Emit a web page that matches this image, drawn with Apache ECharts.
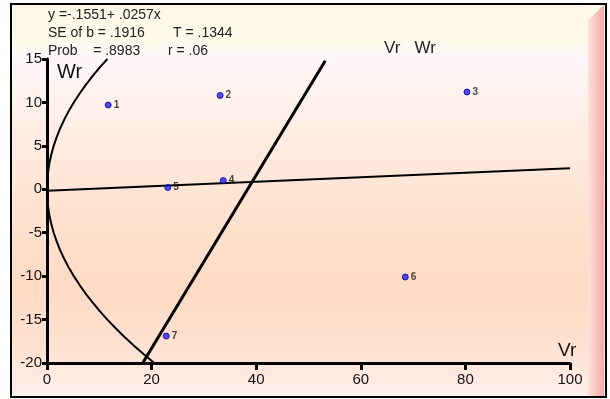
<!DOCTYPE html>
<html><head><meta charset="utf-8">
<script src="https://cdn.jsdelivr.net/npm/echarts@6/dist/echarts.min.js"></script>
<style>html,body{margin:0;padding:0;background:#fff}#c{width:610px;height:399px}</style>
</head><body><div id="c"></div>
<script>
// Data
var pointLabels = ['1','2','3','4','5','6','7'];
var vrValues = [11.7, 33.1, 80.3, 33.7, 23.1, 68.5, 22.8];
var wrValues = [9.7, 10.8, 11.2, 1.0, 0.2, -10.1, -16.9];
var regIntercept = -0.1551, regSlope = 0.0257;
var steepLine = [[18.3, -20], [53.2, 14.8]];
// limiting parabola: Wr values and Vr values
var parabolaWr = [15, 14, 13, 12, 11, 10, 9, 8, 7, 6, 5, 4, 3, 2, 1, 0, -1, -2, -3, -4, -5, -6, -7, -8, -9, -10, -11, -12, -13, -14, -15, -16, -17, -18, -19, -20];
var parabolaVr = [11.54, 10.05, 8.67, 7.38, 6.21, 5.13, 4.15, 3.28, 2.51, 1.85, 1.28, 0.82, 0.46, 0.21, 0.05, 0, 0.05, 0.21, 0.46, 0.82, 1.28, 1.85, 2.51, 3.28, 4.15, 5.13, 6.21, 7.38, 8.67, 10.05, 11.54, 13.13, 14.82, 16.62, 18.51, 20.51];
var xTicks = [0, 20, 40, 60, 80, 100];
var yTicks = [-20, -15, -10, -5, 0, 5, 10, 15];
var statLines = ['y =-.1551+ .0257x', 'SE of b = .1916', 'Prob    = .8983'];
var statRight = ['T = .1344', 'r = .06'];

var chart = echarts.init(document.getElementById('c'));
var scatterData = vrValues.map(function(v, i){ return {value:[v, wrValues[i]], name: pointLabels[i]}; });
var parabolaData = parabolaWr.map(function(w, i){ return [parabolaVr[i], w]; });
var font = '"Liberation Sans", Arial, sans-serif';

var option = {
  animation: false,
  grid: {left: 47, right: 40, top: 59, bottom: 36},
  xAxis: {
    type: 'value', min: xTicks[0], max: xTicks[xTicks.length-1], interval: 20,
    axisLine: {onZero: false, lineStyle: {color: '#000', width: 3}},
    axisTick: {length: 7, lineStyle: {color: '#000', width: 3}},
    axisLabel: {color: '#111', fontSize: 15, fontFamily: font, margin: 9},
    splitLine: {show: false}
  },
  yAxis: {
    type: 'value', min: yTicks[0], max: yTicks[yTicks.length-1], interval: 5,
    axisLine: {onZero: false, lineStyle: {color: '#000', width: 3}},
    axisTick: {length: 5, lineStyle: {color: '#000', width: 3}},
    axisLabel: {color: '#111', fontSize: 15, fontFamily: font, margin: 5},
    splitLine: {show: false}
  },
  graphic: [
    {type: 'rect', z: -10, shape: {x: 11, y: 4, width: 595, height: 393},
     style: {fill: new echarts.graphic.LinearGradient(0, 0, 0, 1, [
       {offset: 0, color: '#fff9ea'}, {offset: 0.1, color: '#fffaf0'},
       {offset: 0.13, color: '#fff8fb'}, {offset: 0.25, color: '#fff1ec'},
       {offset: 0.5, color: '#ffe4d2'}, {offset: 0.72, color: '#ffdac4'},
       {offset: 0.88, color: '#ffe2d2'}, {offset: 1, color: '#fff0ec'}])}},
    {type: 'rect', z: -9, shape: {x: 12, y: 5, width: 576, height: 38},
     style: {fill: new echarts.graphic.LinearGradient(0, 0, 0, 1, [
       {offset: 0, color: '#fff6e6'}, {offset: 1, color: '#fffbea'}])}},
    {type: 'polygon', z: -9, shape: {points: [[588, 20], [604, 5], [604, 396], [588, 396]]},
     style: {fill: new echarts.graphic.LinearGradient(0, 0, 1, 0, [
       {offset: 0, color: '#ffe2da'}, {offset: 1, color: '#f5a8a6'}])}},
    {type: 'rect', z: 10, shape: {x: 11, y: 4, width: 595, height: 393},
     style: {fill: 'none', stroke: '#000', lineWidth: 2}},
    {type: 'text', z: 10, left: 48, top: 8, style: {text: statLines[0], font: '14px ' + font, fill: '#222'}},
    {type: 'text', z: 10, left: 48, top: 26, style: {text: statLines[1], font: '14px ' + font, fill: '#222'}},
    {type: 'text', z: 10, left: 48, top: 44, style: {text: statLines[2], font: '14px ' + font, fill: '#222'}},
    {type: 'text', z: 10, left: 173, top: 26, style: {text: statRight[0], font: '14px ' + font, fill: '#222'}},
    {type: 'text', z: 10, left: 168, top: 44, style: {text: statRight[1], font: '14px ' + font, fill: '#222'}},
    {type: 'text', z: 10, left: 384, top: 40, style: {text: 'Vr   Wr', font: '17px ' + font, fill: '#222'}},
    {type: 'text', z: 10, left: 57, top: 62, style: {text: 'Wr', font: '20px ' + font, fill: '#111'}},
    {type: 'text', z: 10, left: 558, top: 341, style: {text: 'Vr', font: '19px ' + font, fill: '#111'}}
  ],
  series: [
    {type: 'line', data: parabolaData, smooth: false, showSymbol: false, symbol: 'none',
     lineStyle: {color: '#000', width: 2}, z: 3},
    {type: 'line', data: [[0, regIntercept], [100, regIntercept + 100*regSlope]], showSymbol: false, symbol: 'none',
     lineStyle: {color: '#000', width: 2}, z: 3},
    {type: 'line', data: steepLine, showSymbol: false, symbol: 'none',
     lineStyle: {color: '#000', width: 3}, z: 3},
    {type: 'scatter', data: scatterData, symbolSize: 6, z: 5,
     itemStyle: {color: '#2020ff', borderColor: '#000090', borderWidth: 1},
     label: {show: true, position: 'right', distance: 2, formatter: '{b}',
             fontSize: 10, fontWeight: 'bold', color: '#111', fontFamily: font}}
  ]
};
chart.setOption(option);
</script></body></html>
